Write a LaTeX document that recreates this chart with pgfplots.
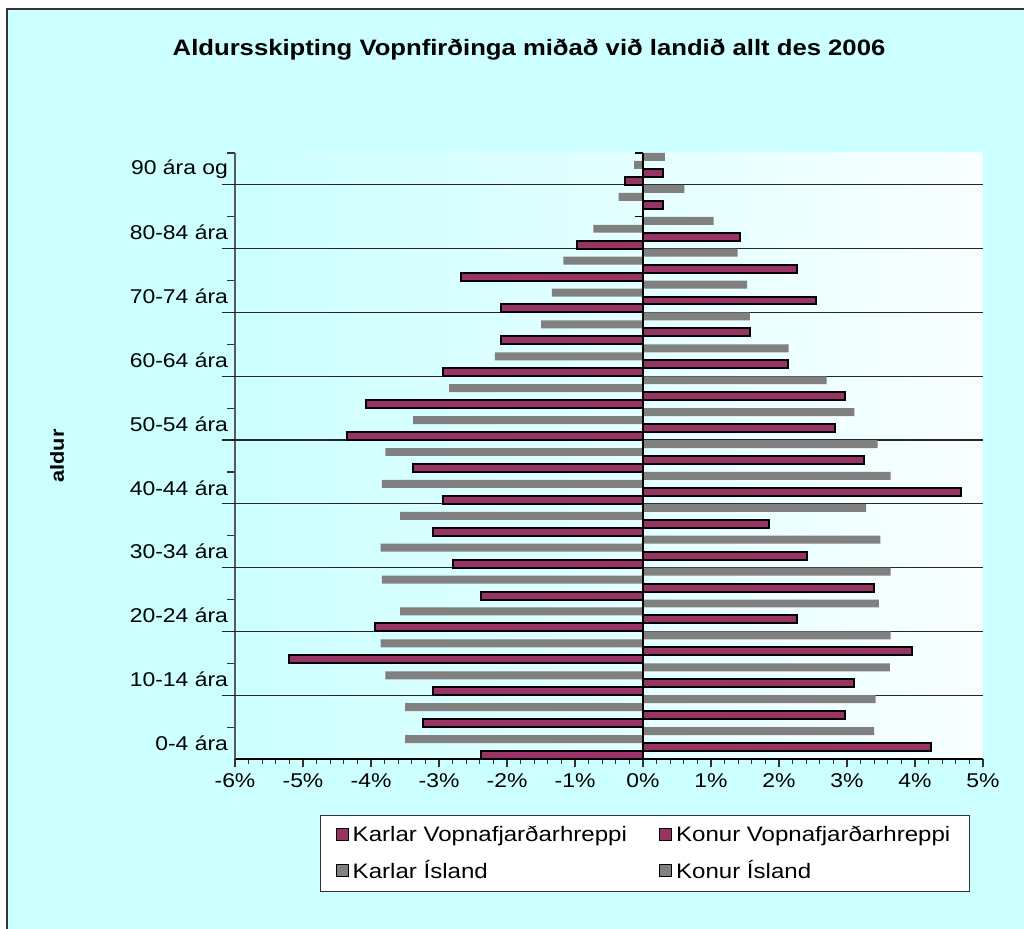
\documentclass[border=0pt]{standalone}
\usepackage{fontspec}
\setmainfont{Liberation Sans}[FakeStretch=1.15]
\usepackage{pgfplots}
\usepackage{pgfplotstable}
\pgfplotsset{compat=1.18}

\definecolor{bgcyan}{RGB}{204,255,255}
\definecolor{plotwhite}{RGB}{248,255,255}
\definecolor{plum}{RGB}{153,51,102}
\definecolor{isgray}{RGB}{128,128,128}

% age group index (0 = 0-4 ... 18 = 90+), share of population in %
\pgfplotstableread{
cat karlV konurV karlI konurI
0  -2.38 4.24 -3.50 3.40
1  -3.24 2.97 -3.50 3.42
2  -3.09 3.10 -3.79 3.63
3  -5.20 3.96 -3.86 3.64
4  -3.94 2.26 -3.57 3.47
5  -2.38 3.40 -3.84 3.64
6  -2.80 2.41 -3.86 3.49
7  -3.09 1.85 -3.57 3.28
8  -2.94 4.67 -3.84 3.64
9  -3.38 3.25 -3.79 3.45
10 -4.35 2.83 -3.38 3.11
11 -4.08 2.97 -2.85 2.70
12 -2.94 2.13 -2.18 2.14
13 -2.09 1.57 -1.50 1.57
14 -2.09 2.54 -1.34 1.53
15 -2.67 2.26 -1.17 1.39
16 -0.97 1.42 -0.73 1.04
17  0.00 0.29 -0.36 0.61
18 -0.27 0.29 -0.13 0.32
}\pyramid

\begin{document}
\begin{tikzpicture}
\useasboundingbox (0bp,0bp) rectangle (512bp,464.5bp);
\fill[white] (0bp,0bp) rectangle (512bp,464.5bp);
\fill[bgcyan] (3.5bp,0bp) rectangle (512bp,460bp);
\draw[line width=1.2bp, black!80] (3.5bp,0bp) -- (3.5bp,460bp) -- (512bp,460bp);

\node[font=\bfseries\fontsize{11.2}{14}\selectfont] at (264.5bp,439.5bp)
  {Aldursskipting Vopnfirðinga miðað við landið allt des 2006};
\node[font=\bfseries\fontsize{9.5}{12}\selectfont, rotate=90] at (28.5bp,236.5bp) {aldur};

\begin{axis}[
  at={(117.5bp,85bp)}, anchor=south west,
  width=374bp, height=303bp, scale only axis,
  xbar, bar width=0.25,
  xmin=-6, xmax=5, ymin=-0.5, ymax=18.5,
  axis lines*=left,
  axis line style={-},
  x axis line style={black, line width=0.6bp},
  y axis line style={black!65, line width=0.6bp},
  axis background/.style={left color=bgcyan, right color=plotwhite},
  clip=false,
  xtick={-6,...,5},
  xticklabels={-6\%,-5\%,-4\%,-3\%,-2\%,-1\%,0\%,1\%,2\%,3\%,4\%,5\%},
  minor x tick num=4,
  ytick={0.5,2.5,...,18.5},
  yticklabels={},
  extra y ticks={0,2,...,18},
  extra y tick labels={0-4 ára,10-14 ára,20-24 ára,30-34 ára,40-44 ára,50-54 ára,60-64 ára,70-74 ára,80-84 ára,90 ára og},
  extra y tick style={major tick length=0pt},
  tick align=outside,
  major tick length=4bp, minor tick length=2.5bp,
  tick style={black!80, line width=0.6bp},
  tick label style={font=\fontsize{10}{12}\selectfont},
  legend style={at={(0.548,-0.0924)}, anchor=north, legend columns=2,
    draw=black!80, fill=white, line width=0.6bp,
    font=\fontsize{10.5}{12}\selectfont,
    inner xsep=7.5bp, inner ysep=3bp, row sep=4bp,
    /tikz/every even column/.append style={column sep=14bp}},
  legend cell align=left,
  legend image code/.code={\draw[#1, line width=0.6bp] (0bp,-3bp) rectangle (6bp,3bp);},
]
\pgfplotsinvokeforeach{1.5,3.5,...,17.5}{
  \draw[black!85, line width=0.6bp] ([xshift=-6.5bp]axis cs:-6,#1) -- (axis cs:5,#1);
}
\addplot[bar shift=-0.375, fill=plum, draw=black, line width=1bp]
  table[x=karlV, y=cat] {\pyramid};
\addplot[bar shift=-0.125, fill=plum, draw=black, line width=1bp]
  table[x=konurV, y=cat] {\pyramid};
\addplot[bar shift=0.125, fill=isgray, draw=none]
  table[x=karlI, y=cat] {\pyramid};
\addplot[bar shift=0.375, fill=isgray, draw=none]
  table[x=konurI, y=cat] {\pyramid};
\legend{Karlar Vopnafjarðarhreppi, Konur Vopnafjarðarhreppi, Karlar Ísland, Konur Ísland}
\draw[black, line width=1.1bp] (axis cs:0,-0.5) -- (axis cs:0,18.5);
\pgfplotsinvokeforeach{0.5,2.5,...,18.5}{
  \draw[black, line width=0.6bp] (axis cs:0,#1) -- ++(-4bp,0bp);
}
\end{axis}
\end{tikzpicture}
\end{document}
